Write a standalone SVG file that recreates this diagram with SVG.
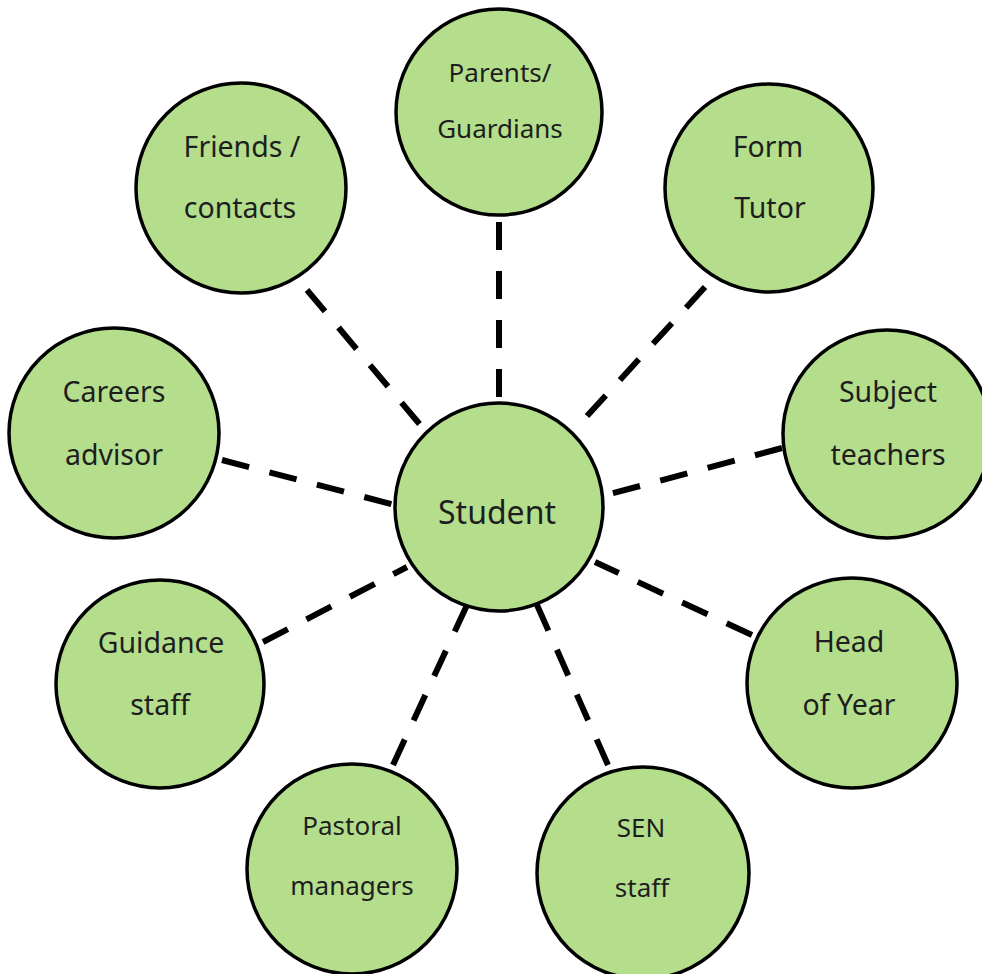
<svg xmlns="http://www.w3.org/2000/svg" width="982" height="974" viewBox="0 0 982 974">
<style>
.n circle{fill:#b4de8c;stroke:#000;stroke-width:3.5}
.n text{font-family:"Noto Sans","Open Sans","Liberation Sans",sans-serif;font-size:28.5px;fill:#1e1e1e;text-anchor:middle}
.n text.s{font-size:26px}
#student text{font-size:32px}
.c line{stroke:#000;stroke-width:6;stroke-dasharray:28 21;fill:none}
</style>
<rect width="982" height="974" fill="#fff"/>
<g class="c" id="connectors">
<line x1="499" y1="222" x2="499" y2="402"/>
<line x1="307" y1="290" x2="422" y2="427"/>
<line x1="705" y1="287" x2="587" y2="416"/>
<line x1="782" y1="448" x2="610" y2="494"/>
<line x1="222" y1="460" x2="395" y2="505"/>
<line x1="752" y1="635" x2="595" y2="562"/>
<line x1="263" y1="642" x2="407" y2="567"/>
<line x1="393" y1="765" x2="467" y2="605"/>
<line x1="608" y1="765" x2="537" y2="605"/>
</g>
<g class="n" id="student"><circle cx="499" cy="507" r="104"/><text x="497" y="524">Student</text></g>
<g class="n" id="parents"><circle cx="499" cy="112" r="103"/><text class="s" x="500" y="82">Parents/</text><text class="s" x="500" y="138">Guardians</text></g>
<g class="n" id="form-tutor"><circle cx="769" cy="188" r="104"/><text x="768" y="157">Form</text><text x="770" y="218">Tutor</text></g>
<g class="n" id="friends"><circle cx="241" cy="188" r="105"/><text x="242" y="157">Friends /</text><text x="240" y="218">contacts</text></g>
<g class="n" id="careers"><circle cx="114" cy="433" r="105"/><text x="114" y="402">Careers</text><text x="114" y="465">advisor</text></g>
<g class="n" id="subject"><circle cx="887" cy="434" r="104"/><text x="888" y="402">Subject</text><text x="888" y="465">teachers</text></g>
<g class="n" id="head-of-year"><circle cx="852" cy="683" r="105"/><text x="849" y="652">Head</text><text x="849" y="715">of Year</text></g>
<g class="n" id="guidance"><circle cx="160" cy="684" r="104"/><text x="161" y="653">Guidance</text><text x="160" y="715">staff</text></g>
<g class="n" id="pastoral"><circle cx="352" cy="869" r="105"/><text class="s" x="352" y="835">Pastoral</text><text class="s" x="352" y="895">managers</text></g>
<g class="n" id="sen"><circle cx="643" cy="873" r="106"/><text class="s" x="641" y="837">SEN</text><text class="s" x="642" y="897">staff</text></g>
</svg>
